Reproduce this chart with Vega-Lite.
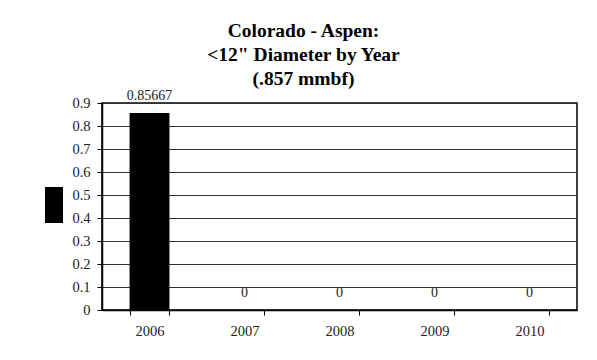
{
  "$schema": "https://vega.github.io/schema/vega-lite/v6.json",
  "width": 475,
  "height": 207,
  "autosize": "none",
  "padding": {"left": 102, "top": 103, "right": 20, "bottom": 50},
  "background": "white",
  "title": {
    "text": ["Colorado - Aspen:", "<12\" Diameter by Year", "(.857 mmbf)"],
    "font": "Liberation Serif, Times New Roman, serif",
    "fontSize": 19.5,
    "fontWeight": "bold",
    "color": "black",
    "lineHeight": 24,
    "anchor": "middle",
    "frame": "group",
    "dx": -36,
    "offset": -1
  },
  "data": {
    "values": [
      {"year": "2006", "value": 0.85667, "series": "Series1"},
      {"year": "2007", "value": 0, "series": "Series1"},
      {"year": "2008", "value": 0, "series": "Series1"},
      {"year": "2009", "value": 0, "series": "Series1"},
      {"year": "2010", "value": 0, "series": "Series1"}
    ]
  },
  "encoding": {
    "x": {
      "field": "year",
      "type": "nominal",
      "title": null,
      "scale": {"paddingInner": 0.58, "paddingOuter": 0.29},
      "axis": {
        "labelAngle": 0,
        "tickBand": "extent",
        "tickSize": 5,
        "tickColor": "black",
        "domainColor": "black",
        "domainWidth": 1.5,
        "labelPadding": 9,
        "labelFont": "Liberation Serif, Times New Roman, serif",
        "labelFontSize": 14.5,
        "labelColor": "#222"
      }
    },
    "y": {
      "field": "value",
      "type": "quantitative",
      "title": null,
      "scale": {"domain": [0, 0.9], "nice": false},
      "axis": {
        "values": [0, 0.1, 0.2, 0.3, 0.4, 0.5, 0.6, 0.7, 0.8, 0.9],
        "labelExpr": "datum.value == 0 ? '0' : format(datum.value, '.1f')",
        "grid": true,
        "gridColor": "#333",
        "gridWidth": 1,
        "gridOpacity": 1,
        "tickSize": 5,
        "tickColor": "black",
        "domainColor": "black",
        "domainWidth": 1.5,
        "labelPadding": 7,
        "labelFont": "Liberation Serif, Times New Roman, serif",
        "labelFontSize": 14.5,
        "labelColor": "#222"
      }
    }
  },
  "layer": [
    {
      "mark": {"type": "bar", "strokeWidth": 0},
      "encoding": {
        "color": {
          "field": "series",
          "type": "nominal",
          "scale": {"range": ["black"]},
          "legend": {
            "orient": "none",
            "legendX": -66,
            "legendY": 84,
            "title": null,
            "padding": 0,
            "symbolType": "M-0.5,-1H0.5V1H-0.5Z",
            "symbolSize": 1296,
            "symbolFillColor": "black",
            "symbolStrokeWidth": 0,
            "symbolOpacity": 1,
            "labelExpr": "''",
            "labelFontSize": 1
          }
        }
      }
    },
    {
      "mark": {"type": "text", "baseline": "bottom", "dy": -10, "font": "Liberation Serif, Times New Roman, serif", "fontSize": 14, "color": "#222"},
      "encoding": {
        "text": {"field": "value", "type": "nominal"}
      }
    }
  ],
  "config": {
    "view": {"stroke": "black", "strokeWidth": 1.5}
  }
}
